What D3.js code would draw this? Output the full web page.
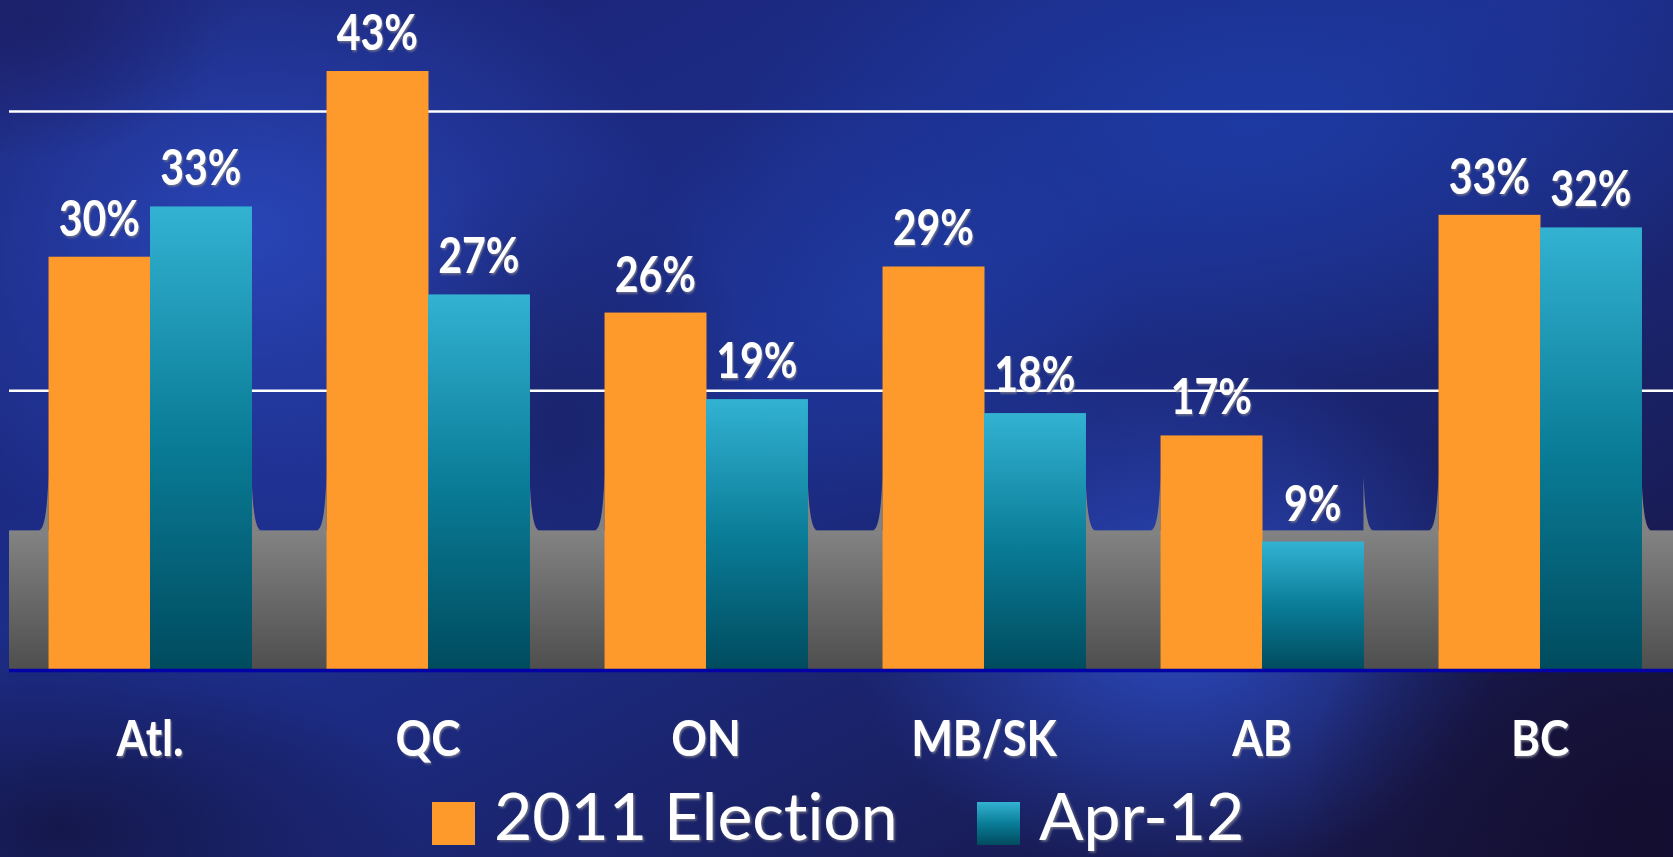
<!DOCTYPE html>
<html>
<head>
<meta charset="utf-8">
<script src="https://cdn.jsdelivr.net/npm/d3@7"></script>
<style>
    html, body { margin: 0; padding: 0; background: #1a2670; overflow: hidden; }
    text { font-variant-ligatures: none; font-feature-settings: "liga" 0, "clig" 0; }
    .value-label { font-family: Lato, "Open Sans", sans-serif; font-weight: 700; font-size: 50px; fill: #fff; }
    .cat-label { font-family: Lato, "Open Sans", sans-serif; font-weight: 700; font-size: 49px; fill: #fff; }
    .legend-label { font-family: Lato, "Open Sans", sans-serif; font-weight: 400; font-size: 66px; fill: #fff; }
</style>
</head>
<body>
<div id="chart"></div>
<script>
// Data for grouped bar chart
const CATEGORIES = ["Atl.", "QC", "ON", "MB/SK", "AB", "BC"];
const SERIES = ["2011 Election", "Apr-12"];
const ELECTION_2011 = [29.6, 42.9, 25.6, 28.9, 16.8, 32.6];
const APR_12 = [33.2, 26.9, 19.4, 18.4, 9.2, 31.7];
const GRID_TICKS = [20, 40];
const FLOOR_LEVEL = 10;

const width = 1673;
const height = 857;
const margin = ({top: 0, right: 0, bottom: 187, left: 9});
const innerBottom = height - margin.bottom;

const DATA = CATEGORIES.map((c, i) => ({
    category: c,
    values: [ELECTION_2011[i], APR_12[i]]
}));

let svg = d3.select("#chart")
    .append("svg")
    .attr("width", width)
    .attr("height", height);

const defs = svg.append("defs");

// background: dark base + a few soft blue glows
const bgBase = defs.append("linearGradient")
    .attr("id", "bg-base")
    .attr("x1", 0).attr("y1", 0).attr("x2", 1).attr("y2", 1);
bgBase.append("stop").attr("offset", 0).attr("stop-color", "#1b2270");
bgBase.append("stop").attr("offset", 0.45).attr("stop-color", "#1d2f8e");
bgBase.append("stop").attr("offset", 1).attr("stop-color", "#161238");

const glows = [
    {id: "g1", cx: 250, cy: 230, rx: 420, ry: 330, color: "#2a48bc", op: 0.9},
    {id: "g2", cx: 1180, cy: 620, rx: 330, ry: 260, color: "#2c4cc4", op: 0.95},
    {id: "g3", cx: 1250, cy: 120, rx: 520, ry: 260, color: "#1d3ba4", op: 0.9},
    {id: "g4", cx: 880, cy: 300, rx: 260, ry: 220, color: "#2040a8", op: 0.6},
    {id: "d1", cx: 60, cy: 830, rx: 360, ry: 200, color: "#141544", op: 0.9},
    {id: "d2", cx: 1640, cy: 820, rx: 340, ry: 320, color: "#140e30", op: 0.95},
    {id: "d3", cx: 560, cy: 420, rx: 200, ry: 260, color: "#19205e", op: 0.7},
    {id: "d4", cx: 30, cy: 20, rx: 200, ry: 140, color: "#1c1f66", op: 0.8}
];

glows.forEach(g => {
    const rg = defs.append("radialGradient").attr("id", g.id);
    rg.append("stop").attr("offset", 0).attr("stop-color", g.color).attr("stop-opacity", g.op);
    rg.append("stop").attr("offset", 1).attr("stop-color", g.color).attr("stop-opacity", 0);
});

svg.append("rect")
    .attr("width", width)
    .attr("height", height)
    .attr("fill", "url(#bg-base)");

svg.append("g").selectAll("ellipse")
    .data(glows)
  .enter().append("ellipse")
    .attr("cx", d => d.cx)
    .attr("cy", d => d.cy)
    .attr("rx", d => d.rx)
    .attr("ry", d => d.ry)
    .attr("fill", d => `url(#${d.id})`);

// bar and floor gradients
const tealGrad = defs.append("linearGradient")
    .attr("id", "teal")
    .attr("x1", 0).attr("y1", 0).attr("x2", 0).attr("y2", 1);
tealGrad.append("stop").attr("offset", 0).attr("stop-color", "#33b2d2");
tealGrad.append("stop").attr("offset", 0.5).attr("stop-color", "#0a7d98");
tealGrad.append("stop").attr("offset", 1).attr("stop-color", "#004b5e");

const floorGrad = defs.append("linearGradient")
    .attr("id", "floor")
    .attr("x1", 0).attr("y1", 0).attr("x2", 0).attr("y2", 1);
floorGrad.append("stop").attr("offset", 0).attr("stop-color", "#838383");
floorGrad.append("stop").attr("offset", 1).attr("stop-color", "#4e4e4e");

const shadow = defs.append("filter")
    .attr("id", "txt-shadow")
    .attr("x", "-10%").attr("y", "-10%")
    .attr("width", "130%").attr("height", "130%");
shadow.append("feDropShadow")
    .attr("dx", 1.5).attr("dy", 1.5)
    .attr("stdDeviation", 0.8)
    .attr("flood-color", "#7a7a8a")
    .attr("flood-opacity", 0.9);

const COLORS = ["#fe992b", "url(#teal)"];

// scales
const xScale = d3.scaleBand()
    .domain(CATEGORIES)
    .range([11, 1679])
    .paddingInner(0.27)
    .paddingOuter(0.135);

const xSub = d3.scaleBand()
    .domain(d3.range(SERIES.length))
    .range([0, xScale.bandwidth()]);

const yScale = d3.scaleLinear()
    .domain([0, 40])
    .range([innerBottom, 111.5]);

let rootGroup = svg.append("g");

// grey floor with fillets hugging each bar group
const floorTop = yScale(FLOOR_LEVEL);
const floorGroup = rootGroup.append("g").attr("class", "floor");

floorGroup.append("rect")
    .attr("x", margin.left)
    .attr("y", floorTop)
    .attr("width", width - margin.left)
    .attr("height", innerBottom - floorTop)
    .attr("fill", "url(#floor)");

const filletH = 55;
const filletW = 10;
floorGroup.selectAll(".fillet")
    .data(DATA.flatMap(d => [
        {x: xScale(d.category), dir: -1},
        {x: xScale(d.category) + xScale.bandwidth(), dir: 1}
    ]))
  .enter().append("path")
    .attr("class", "fillet")
    .attr("fill", "#828282")
    .attr("d", d => {
        const p = d3.path();
        p.moveTo(d.x, floorTop - filletH);
        p.bezierCurveTo(d.x + d.dir * 1.5, floorTop - filletH * 0.3,
            d.x + d.dir * filletW * 0.45, floorTop,
            d.x + d.dir * filletW, floorTop);
        p.lineTo(d.x, floorTop + 1);
        p.closePath();
        return p.toString();
    });

// gridlines
rootGroup.append("g")
    .attr("class", "grid")
    .selectAll("line")
    .data(GRID_TICKS)
  .enter().append("line")
    .attr("x1", margin.left)
    .attr("x2", width)
    .attr("y1", d => yScale(d))
    .attr("y2", d => yScale(d))
    .attr("stroke", "#ffffff")
    .attr("stroke-width", 2.5);

// bars
const barGroups = rootGroup.append("g")
    .attr("class", "bars")
    .selectAll("g")
    .data(DATA)
  .enter().append("g")
    .attr("transform", d => `translate(${xScale(d.category)},0)`);

barGroups.selectAll("rect")
    .data(d => d.values.map((v, i) => ({v, i})))
  .enter().append("rect")
    .attr("x", d => xSub(d.i))
    .attr("y", d => yScale(d.v))
    .attr("width", xSub.bandwidth() + 0.5)
    .attr("height", d => innerBottom - yScale(d.v))
    .attr("fill", d => COLORS[d.i]);

// value labels
barGroups.selectAll("text")
    .data(d => d.values.map((v, i) => ({v, i})))
  .enter().append("text")
    .attr("class", "value-label")
    .attr("filter", "url(#txt-shadow)")
    .attr("text-anchor", "middle")
    .attr("transform", d => `translate(${xSub(d.i) + xSub.bandwidth() / 2},${yScale(d.v) - 21}) scale(0.82,1)`)
    .text(d => `${Math.round(d.v)}%`);

// baseline
rootGroup.append("line")
    .attr("x1", margin.left)
    .attr("x2", width)
    .attr("y1", innerBottom + 0.5)
    .attr("y2", innerBottom + 0.5)
    .attr("stroke", "#0202a6")
    .attr("stroke-width", 3.5);

// category axis labels
rootGroup.append("g")
    .attr("class", "x axis")
    .selectAll("text")
    .data(CATEGORIES)
  .enter().append("text")
    .attr("class", "cat-label")
    .attr("filter", "url(#txt-shadow)")
    .attr("text-anchor", "middle")
    .attr("transform", d => `translate(${xScale(d) + xScale.bandwidth() / 2},756) scale(0.9,1)`)
    .text(d => d);

// legend
const legendX = [432, 977];
const legend = rootGroup.append("g")
    .attr("class", "legend")
    .selectAll("g")
    .data(SERIES)
  .enter().append("g")
    .attr("transform", (d, i) => `translate(${legendX[i]},802)`);

legend.append("rect")
    .attr("width", 43)
    .attr("height", 43)
    .attr("fill", (d, i) => COLORS[i]);

legend.append("text")
    .attr("class", "legend-label")
    .attr("filter", "url(#txt-shadow)")
    .attr("x", 62)
    .attr("y", 38)
    .text(d => d);
</script>
</body>
</html>
